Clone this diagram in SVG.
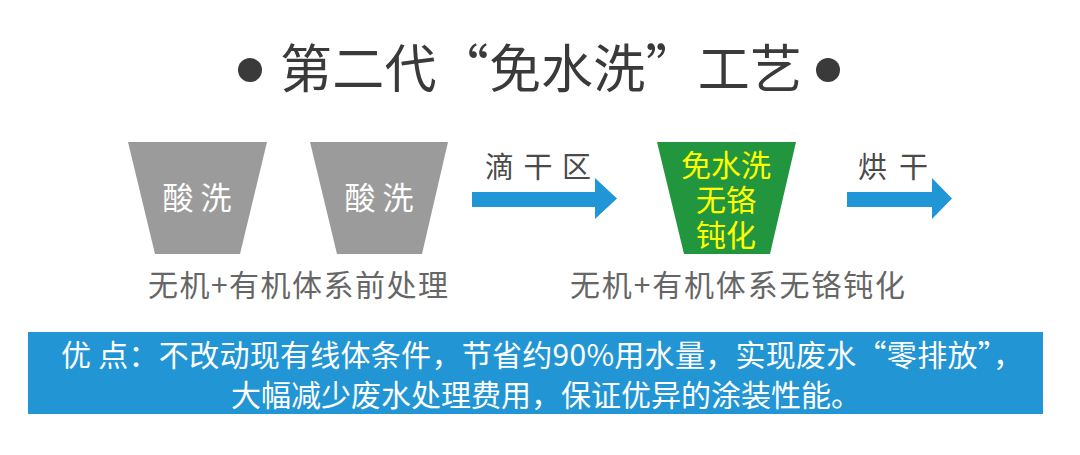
<svg xmlns="http://www.w3.org/2000/svg" width="1080" height="455" viewBox="0 0 1080 455">
  <style>
    text { font-family: "Noto Sans CJK SC", "Noto Sans", sans-serif; }
    .title { font-size: 52px; fill: #3a3a3a; }
    .tub { fill: #9b9b9b; }
    .tubtxt { font-size: 31px; fill: #ffffff; text-anchor: middle; }
    .green { fill: #22953f; }
    .ytxt { font-size: 30px; fill: #ffff00; text-anchor: middle; }
    .lbl { font-size: 30px; fill: #666666; }
    .alab { font-size: 29px; fill: #4a4a4a; }
    .arrow { fill: #2196d6; }
    .box { fill: #2295d5; }
    .btxt { font-size: 30px; fill: #ffffff; }
  </style>
  <rect width="1080" height="455" fill="#ffffff"/>

  <g id="title">
    <circle cx="250" cy="70" r="12" fill="#3a3a3a"/>
    <text class="title" x="280" y="88" textLength="522" lengthAdjust="spacing">第二代“免水洗”工艺</text>
    <circle cx="828" cy="70" r="12" fill="#3a3a3a"/>
  </g>

  <g id="tank1">
    <polygon class="tub" points="128,142 267,142 240,254 155,254"/>
    <text class="tubtxt" x="197" y="209">酸 洗</text>
  </g>
  <g id="tank2">
    <polygon class="tub" points="310,142 448,142 422,254 337,254"/>
    <text class="tubtxt" x="379" y="209">酸 洗</text>
  </g>
  <g id="label-pre">
    <text class="lbl" x="148" y="296" textLength="300" lengthAdjust="spacing">无机+有机体系前处理</text>
  </g>

  <g id="tank3">
    <polygon class="green" points="657,142 796,142 770,254 684,254"/>
    <text class="ytxt" x="726" y="176">免水洗</text>
    <text class="ytxt" x="726" y="211">无铬</text>
    <text class="ytxt" x="726" y="246">钝化</text>
  </g>
  <g id="label-pass">
    <text class="lbl" x="570" y="296" textLength="335" lengthAdjust="spacing">无机+有机体系无铬钝化</text>
  </g>

  <g id="connectors">
    <g id="arrow-drip">
      <polygon class="arrow" points="472,192 595,192 595,178 617,198.5 595,219 595,207 472,207"/>
      <text class="alab" x="485" y="178" textLength="106" lengthAdjust="spacing">滴 干 区</text>
    </g>
    <g id="arrow-dry">
      <polygon class="arrow" points="847,192 932,192 932,178 952,198.5 932,219 932,207 847,207"/>
      <text class="alab" x="858" y="178" textLength="70" lengthAdjust="spacing">烘 干</text>
    </g>
  </g>

  <g id="advantage">
    <rect class="box" x="28" y="332" width="1015" height="82"/>
    <text class="btxt" x="61" y="366" textLength="962" lengthAdjust="spacing">优 点：不改动现有线体条件，节省约90%用水量，实现废水“零排放”，</text>
    <text class="btxt" x="231" y="406" textLength="630" lengthAdjust="spacing">大幅减少废水处理费用，保证优异的涂装性能。</text>
  </g>
</svg>
